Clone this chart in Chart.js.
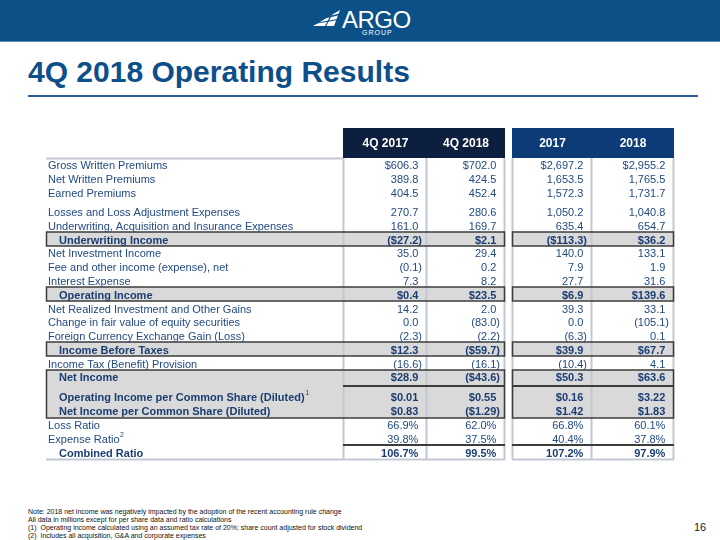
<!DOCTYPE html>
<html>
<head>
<meta charset="utf-8">
<script src="https://cdn.jsdelivr.net/npm/chart.js@4.4.1/dist/chart.umd.min.js"></script>
<style>
  body { margin: 0; width: 720px; height: 540px; overflow: hidden; background: #fff; position: relative;
         font-family: "Liberation Sans", Arial, sans-serif; }
  .banner { position: absolute; left: 0; top: 0; width: 720px; height: 41px; background: #0b5188;
            border-bottom: 1px solid #5b8fc0; }
  .logo-mark { position: absolute; left: 311px; top: 9px; }
  .logo-word { position: absolute; left: 342px; top: 6px; color: #fff; font-size: 24px; letter-spacing: -0.5px; }
  .logo-sub { position: absolute; left: 362px; top: 29px; color: #fff; font-size: 7px; letter-spacing: 1px; }
  h1 { position: absolute; left: 28px; top: 55px; margin: 0; font-size: 30px; font-weight: bold; color: #0d4f8b;
       font-family: "Liberation Sans Narrow", "Liberation Sans", Arial, sans-serif; }
  .rule { position: absolute; left: 28px; top: 95px; width: 670px; height: 2px; background: #2b5f93; }
  .notes { position: absolute; left: 28px; top: 508px; font-size: 7px; line-height: 8px; color: #111;
           font-family: "Liberation Sans Narrow", "Liberation Sans", Arial, sans-serif; }
  .page { position: absolute; left: 694px; top: 521px; font-size: 11px; color: #222; }
  canvas { position: absolute; left: 0; top: 0; }
</style>
</head>
<body>
<div class="banner"></div>
<svg class="logo-mark" width="30" height="20" viewBox="0 0 30 20">
  <polygon points="29,1 2,17 23,17" fill="#fff"/>
  <line x1="0" y1="12" x2="30" y2="5" stroke="#0b5188" stroke-width="1.4"/>
  <line x1="0" y1="15" x2="30" y2="10" stroke="#0b5188" stroke-width="1.2"/>
  <line x1="14" y1="18" x2="22" y2="3" stroke="#0b5188" stroke-width="1.2"/>
</svg>
<div class="logo-word">ARGO</div>
<div class="logo-sub">GROUP</div>
<h1>4Q 2018 Operating Results</h1>
<div class="rule"></div>
<div class="notes">
  Note: 2018 net income was negatively impacted by the adoption of the recent accounting rule change<br>
  All data in millions except for per share data and ratio calculations<br>
  (1)&nbsp; Operating income calculated using an assumed tax rate of 20%; share count adjusted for stock dividend<br>
  (2)&nbsp; Includes all acquisition, G&amp;A and corporate expenses
</div>
<div class="page">16</div>
<canvas id="results" width="720" height="540"></canvas>
<script>
/* Columns of the table */
var columns = ['4Q 2017', '4Q 2018', '2017', '2018'];

/* Row labels */
var rowLabels = [
    'Gross Written Premiums',
    'Net Written Premiums',
    'Earned Premiums',
    'Losses and Loss Adjustment Expenses',
    'Underwriting, Acquisition and Insurance Expenses',
    'Underwriting Income',
    'Net Investment Income',
    'Fee and other income (expense), net',
    'Interest Expense',
    'Operating Income',
    'Net Realized Investment and Other Gains',
    'Change in fair value of equity securities',
    'Foreign Currency Exchange Gain (Loss)',
    'Income Before Taxes',
    'Income Tax (Benefit) Provision',
    'Net Income',
    'Operating Income per Common Share (Diluted)',
    'Net Income per Common Share (Diluted)',
    'Loss Ratio',
    'Expense Ratio',
    'Combined Ratio'
];

/* Values, one array per column */
var q4_2017 = [606.3, 389.8, 404.5, 270.7, 161.0, -27.2, 35.0, -0.1, 7.3, 0.4, 14.2, 0.0, -2.3, 12.3, -16.6, 28.9, 0.01, 0.83, 66.9, 39.8, 106.7];
var q4_2018 = [702.0, 424.5, 452.4, 280.6, 169.7, 2.1, 29.4, 0.2, 8.2, 23.5, 2.0, -83.0, -2.2, -59.7, -16.1, -43.6, 0.55, -1.29, 62.0, 37.5, 99.5];
var fy_2017 = [2697.2, 1653.5, 1572.3, 1050.2, 635.4, -113.3, 140.0, 7.9, 27.7, 6.9, 39.3, 0.0, -6.3, 39.9, -10.4, 50.3, 0.16, 1.42, 66.8, 40.4, 107.2];
var fy_2018 = [2955.2, 1765.5, 1731.7, 1040.8, 654.7, 36.2, 133.1, 1.9, 31.6, 139.6, 33.1, -105.1, 0.1, 67.7, 4.1, 63.6, 3.22, 1.83, 60.1, 37.8, 97.9];
var values = [q4_2017, q4_2018, fy_2017, fy_2018];

/* Row formatting */
var dollarRows = [0, 5, 9, 13, 15, 16, 17];
var boldRows = [5, 9, 13, 15, 16, 17, 20];
var perShareRows = [16, 17];
var ratioRows = [18, 19, 20];
var footnoteMarks = {16: '1', 19: '2'};

/* layout: extra space before some rows, boxes with grey fill */
var gapBefore = {3: 0.38, 16: 0.45};
var greyBoxes = [[5, 5], [9, 9], [13, 13], [15, 17]];

var rowPos = [];
var acc = 0;
rowLabels.forEach(function (l, i) {
    acc += (gapBefore[i] || 0);
    rowPos.push(i + acc);
});

var FONT = '"Liberation Sans", Arial, sans-serif';
var TXT = '#234a82';
var TXT_BOLD = '#1b3d72';
var GRID = '#c3c7d3';
var DARK = '#3c3c3c';
var LABEL_X = 46;
var GAP = 8;
var HEADER_H = 30;

function fmt(v, r) {
    var dec = perShareRows.indexOf(r) >= 0 ? 2 : 1;
    var s = Math.abs(v).toLocaleString('en-US', {minimumFractionDigits: dec, maximumFractionDigits: dec});
    if (dollarRows.indexOf(r) >= 0) s = '$' + s;
    if (ratioRows.indexOf(r) >= 0) s = s + '%';
    return v < 0 ? '(' + s + ')' : s;
}

var tablePlugin = {
    id: 'tableCells',
    beforeDatasetsDraw: function (chart) {
        var ctx = chart.ctx, a = chart.chartArea, x = chart.scales.x, y = chart.scales.y;
        var band = x.width / columns.length;
        var rowH = y.getPixelForValue(1) - y.getPixelForValue(0);
        function cell(ci) {
            var c = x.getPixelForValue(ci);
            var l = c - band / 2, r = c + band / 2;
            if (ci === 1) r -= GAP / 2;
            if (ci === 2) l += GAP / 2;
            return [Math.round(l), Math.round(r)];
        }
        function rowTop(r) { return Math.round(y.getPixelForValue(rowPos[r]) - rowH / 2); }
        function rowBot(r) { return Math.round(y.getPixelForValue(rowPos[r]) + rowH / 2); }
        var gA = [cell(0)[0], cell(1)[1]], gB = [cell(2)[0], cell(3)[1]];
        chart.$cell = cell;

        ctx.save();
        // grey boxes
        ctx.fillStyle = '#d9d9d9';
        greyBoxes.forEach(function (b) {
            var t = rowTop(b[0]), bt = rowBot(b[1]);
            ctx.fillRect(LABEL_X, t, gA[1] - LABEL_X, bt - t);
            ctx.fillRect(gB[0], t, gB[1] - gB[0], bt - t);
        });
        // light grid
        ctx.strokeStyle = GRID;
        ctx.beginPath();
        [cell(0)[0], cell(0)[1], gA[1], gB[0], cell(2)[1], gB[1]].forEach(function (px) {
            ctx.moveTo(px + 0.5, a.top);
            ctx.lineTo(px + 0.5, a.bottom);
        });
        ctx.moveTo(LABEL_X, a.top + 0.5);
        ctx.lineTo(a.left, a.top + 0.5);
        ctx.moveTo(LABEL_X, a.bottom + 0.5);
        ctx.lineTo(gA[1] + 1, a.bottom + 0.5);
        ctx.moveTo(gB[0], a.bottom + 0.5);
        ctx.lineTo(gB[1] + 1, a.bottom + 0.5);
        ctx.lineWidth = 2;
        ctx.stroke();
        // dark borders
        ctx.strokeStyle = DARK;
        ctx.lineWidth = 1.5;
        greyBoxes.forEach(function (b) {
            var t = rowTop(b[0]), bt = rowBot(b[1]);
            ctx.strokeRect(LABEL_X + 0.5, t, gA[1] - LABEL_X, bt - t);
            ctx.strokeRect(gB[0] + 0.5, t, gB[1] - gB[0], bt - t);
        });
        // separator under Net Income, line above Combined Ratio
        ctx.lineWidth = 2;
        ctx.beginPath();
        [rowBot(15) + 2, rowTop(20)].forEach(function (py) {
            ctx.moveTo(a.left, py);
            ctx.lineTo(gA[1] + 1, py);
            ctx.moveTo(gB[0], py);
            ctx.lineTo(gB[1] + 1, py);
        });
        ctx.stroke();
        // header cells
        columns.forEach(function (c, ci) {
            var e = cell(ci);
            ctx.fillStyle = ci < 2 ? '#0c1f3e' : '#0c3b77';
            ctx.fillRect(e[0] + (ci % 2 ? 1 : 0), a.top - HEADER_H, e[1] - e[0] + (ci % 2 ? 0 : 1), HEADER_H);
            ctx.fillStyle = '#fff';
            ctx.font = 'bold 12px ' + FONT;
            ctx.textAlign = 'center';
            ctx.textBaseline = 'middle';
            ctx.fillText(c, (e[0] + e[1]) / 2 + 1, a.top - HEADER_H / 2 + 1);
        });
        ctx.restore();
    },
    afterDatasetsDraw: function (chart) {
        var ctx = chart.ctx, cell = chart.$cell;
        ctx.save();
        ctx.textBaseline = 'middle';
        // row labels
        var first = chart.getDatasetMeta(0).data;
        rowLabels.forEach(function (lab, r) {
            var bold = boldRows.indexOf(r) >= 0;
            var py = first[r].y + 1.5;
            var px = bold ? LABEL_X + 13 : LABEL_X + 2;
            ctx.font = (bold ? 'bold ' : '') + '11px ' + FONT;
            ctx.fillStyle = bold ? TXT_BOLD : TXT;
            ctx.textAlign = 'left';
            ctx.fillText(lab, px, py);
            if (footnoteMarks[r]) {
                var w = ctx.measureText(lab).width;
                ctx.font = '7px ' + FONT;
                ctx.fillText(footnoteMarks[r], px + w + 0.5, py - 5);
            }
        });
        // values
        values.forEach(function (col, ci) {
            var pts = chart.getDatasetMeta(ci).data;
            var right = cell(ci)[1] - 4;
            col.forEach(function (v, r) {
                var bold = boldRows.indexOf(r) >= 0;
                ctx.font = (bold ? 'bold ' : '') + '11px ' + FONT;
                ctx.fillStyle = bold ? TXT_BOLD : TXT;
                ctx.textAlign = 'right';
                var pad = v < 0 ? 0 : ctx.measureText(')').width;
                ctx.fillText(fmt(v, r), right - pad, pts[r].y + 1.5);
            });
        });
        ctx.restore();
    }
};

var ctx = document.getElementById('results').getContext('2d');
var results = new Chart(ctx, {
    type: 'scatter',
    data: {
        labels: columns,
        datasets: values.map(function (col, ci) {
            return {
                label: columns[ci],
                data: col.map(function (v, r) { return {x: columns[ci], y: rowPos[r]}; }),
                pointRadius: 0
            };
        })
    },
    options: {
        responsive: false,
        animation: false,
        layout: {
            padding: {left: 343, right: 47, top: 158, bottom: 81}
        },
        plugins: {
            legend: {display: false},
            tooltip: {enabled: false}
        },
        scales: {
            x: {type: 'category', labels: columns, offset: true, display: false},
            y: {type: 'linear', reverse: true, min: -0.5, max: rowPos[rowPos.length - 1] + 0.5, display: false}
        }
    },
    plugins: [tablePlugin]
});
</script>
</body>
</html>
